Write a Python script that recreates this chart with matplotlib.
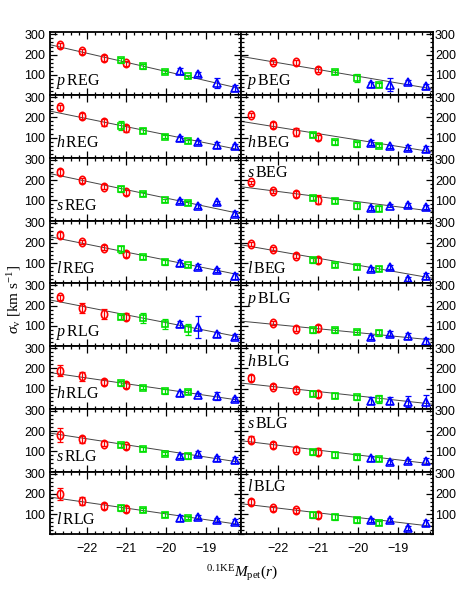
import numpy as np
import matplotlib.pyplot as plt
from matplotlib.path import Path
from matplotlib.ticker import MultipleLocator

plt.rcParams['font.family'] = ['Liberation Sans', 'DejaVu Sans']
plt.rcParams['mathtext.fontset'] = 'custom'
plt.rcParams['mathtext.rm'] = 'Liberation Serif'
plt.rcParams['mathtext.it'] = 'Liberation Serif:italic'

# x positions of the three bins (absolute magnitude)
x_red = [-22.67, -22.12, -21.56, -21.0]
x_green = [-21.13, -20.58, -20.03, -19.47]
x_blue = [-19.67, -19.2, -18.74, -18.28]

names_left = ['pREG', 'hREG', 'sREG', 'lREG', 'pRLG', 'hRLG', 'sRLG', 'lRLG']
names_right = ['pBEG', 'hBEG', 'sBEG', 'lBEG', 'pBLG', 'hBLG', 'sBLG', 'lBLG']
top_labels = ['sBEG', 'pBLG', 'hBLG', 'sBLG', 'lBLG']

nan = np.nan
# sigma_v values: 4 red, 4 green, 4 blue
sig = {}
err = {}
sig['pREG'] = [246, 216, 183, 158, 172, 142, 116, 93, 117, 104, 60, 35]
err['pREG'] = [12, 12, 15, 12, 12, 12, 8, 8, 15, 10, 25, 15]
sig['hREG'] = [249, 208, 176, 145, 158, 134, 105, 82, 96, 78, 62, 58]
err['hREG'] = [12, 15, 18, 15, 22, 12, 8, 8, 12, 10, 15, 12]
sig['sREG'] = [238, 199, 168, 140, 156, 129, 101, 87, 97, 74, 90, 34]
err['sREG'] = [15, 12, 12, 12, 15, 10, 8, 8, 10, 10, 8, 12]
sig['lREG'] = [238, 204, 175, 145, 168, 132, 104, 89, 102, 83, 64, 37]
err['lREG'] = [15, 12, 12, 15, 18, 10, 12, 8, 15, 12, 10, 15]
sig['pRLG'] = [241, 187, 159, 146, 142, 137, 108, 83, 111, 96, 58, 47]
err['pRLG'] = [12, 25, 24, 18, 10, 25, 25, 27, 15, 55, 12, 12]
sig['hRLG'] = [189, 160, 134, 117, 127, 105, 86, 81, 77, 69, 64, 48]
err['hRLG'] = [29, 22, 14, 14, 12, 8, 12, 10, 12, 8, 18, 10]
sig['sRLG'] = [180, 160, 137, 124, 131, 111, 88, 78, 75, 88, 66, 55]
err['sRLG'] = [33, 18, 12, 12, 12, 10, 8, 15, 10, 12, 12, 15]
sig['lRLG'] = [199, 166, 141, 125, 131, 120, 97, 82, 81, 84, 71, 63]
err['lRLG'] = [29, 20, 15, 15, 15, 8, 12, 8, 15, 10, 10, 12]

sig['pBEG'] = [nan, 162, 162, 125, nan, 112, 84, 50, 53, 52, 64, 44]
err['pBEG'] = [0, 10, 12, 12, 0, 10, 18, 12, 12, 30, 10, 12]
sig['hBEG'] = [210, 164, 126, 102, 111, 77, 68, 60, 74, 57, 49, 45]
err['hBEG'] = [10, 15, 20, 12, 10, 12, 12, 8, 12, 8, 12, 15]
sig['sBEG'] = [189, 145, 133, 104, 112, 99, 74, 58, 63, 74, 79, 66]
err['sBEG'] = [8, 10, 15, 20, 10, 10, 15, 12, 10, 8, 10, 10]
sig['lBEG'] = [195, 170, 137, 117, 114, 92, 79, 73, 73, 81, 23, 38]
err['lBEG'] = [10, 10, 12, 15, 12, 10, 10, 12, 10, 12, 10, 15]
sig['pBLG'] = [nan, 113, 85, 88, 77, 77, 68, 63, 44, 60, 50, 25]
err['pBLG'] = [0, 10, 12, 15, 12, 10, 10, 15, 10, 12, 15, 15]
sig['hBLG'] = [150, 110, 94, 74, 74, 64, 57, 49, 41, 41, 36, 36]
err['hBLG'] = [15, 12, 12, 15, 12, 12, 12, 20, 15, 18, 25, 30]
sig['sBLG'] = [157, 132, 108, 99, 96, 80, 71, 61, 66, 47, 53, 53]
err['sBLG'] = [18, 15, 12, 15, 12, 15, 12, 10, 12, 10, 10, 15]
sig['lBLG'] = [158, 128, 118, 97, 97, 84, 69, 56, 69, 69, 31, 56]
err['lBLG'] = [15, 12, 12, 15, 15, 15, 12, 10, 10, 10, 10, 15]

# linear fits: value at M = -20.52 and slope
fit_mid = {'pREG': 140, 'hREG': 134.5, 'sREG': 132.5, 'lREG': 135,
           'pRLG': 135.5, 'hRLG': 110, 'sRLG': 117.5, 'lRLG': 115.5,
           'pBEG': 110.5, 'hBEG': 104.5, 'sBEG': 106.5, 'lBEG': 107.5,
           'pBLG': 76.5, 'hBLG': 75, 'sBLG': 94.5, 'lBLG': 95}
fit_slope = {'pREG': -45.4, 'hREG': -40.2, 'sREG': -41.5, 'lREG': -39.6,
             'pRLG': -38.5, 'hRLG': -28.75, 'sRLG': -30.2, 'lRLG': -28.5,
             'pBEG': -33.5, 'hBEG': -31.5, 'sBEG': -25.2, 'lBEG': -34.4,
             'pBLG': -19.4, 'hBLG': -21.7, 'sBLG': -24, 'lBLG': -23.3}
m0 = -20.52

xlim = (-22.92, -18.12)

# slightly tall ellipse for the red points
circ = Path.unit_circle()
ellipse = Path(circ.vertices * np.array([0.75, 1.0]), circ.codes)

fig, axes = plt.subplots(8, 2, figsize=(4.58, 5.99), dpi=100, sharex=True, sharey=True)
fig.subplots_adjust(left=0.109, right=0.945, top=0.946, bottom=0.108, wspace=0, hspace=0)

groups = [(x_red, slice(0, 4), 'red', ellipse, 6.0),
          (x_green, slice(4, 8), '#00e000', 's', 4.3),
          (x_blue, slice(8, 12), 'blue', '^', 5.2)]

for col, names in enumerate([names_left, names_right]):
    for row, name in enumerate(names):
        ax = axes[row, col]
        xx = np.array(xlim)
        ax.plot(xx, fit_mid[name] + fit_slope[name] * (xx - m0), color='#444444', lw=0.7, zorder=1)
        y = np.array(sig[name], dtype=float)
        e = np.array(err[name], dtype=float)
        for xs, sl, c, mk, ms in groups:
            ax.errorbar(xs, y[sl], yerr=e[sl], fmt='none', ecolor=c, elinewidth=0.9,
                        capsize=2, capthick=0.9, zorder=2)
            ax.plot(xs, y[sl], linestyle='none', marker=mk, ms=ms, mfc='none',
                    mec=c, mew=1.2, zorder=3)
        letter, rest = name[0], name[1:]
        ty = 214 if name in top_labels else 52
        ax.text(-22.78, ty, r'$\mathit{%s}\,$' % letter + rest, fontsize=11.5,
                family='Liberation Serif')

        ax.set_xlim(*xlim)
        ax.set_ylim(0, 310)
        ax.xaxis.set_major_locator(MultipleLocator(1))
        ax.xaxis.set_minor_locator(MultipleLocator(0.2))
        ax.set_yticks([100, 200, 300])
        ax.yaxis.set_minor_locator(MultipleLocator(20))
        ax.tick_params(which='both', direction='in', top=True, right=True,
                       labelsize=9, width=0.9)
        ax.tick_params(which='major', length=5)
        ax.tick_params(which='minor', length=2.5)
        ax.tick_params(axis='x', pad=6)
        if col == 1:
            ax.tick_params(axis='y', labelleft=False, labelright=True, pad=1.5)
        for s in ax.spines.values():
            s.set_linewidth(1.3)

fig.text(0.03, 0.5, r'$\sigma_{\rm v}$ [km s$^{-1}$]', rotation=90, ha='center',
         va='center', fontsize=11, family='Liberation Serif')
fig.text(0.527, 0.043, r'$^{0.1{\rm KE}}M_{\rm pet}(r)$', ha='center', va='center',
         fontsize=11, family='Liberation Serif')

fig.savefig('out.png', dpi=100)
